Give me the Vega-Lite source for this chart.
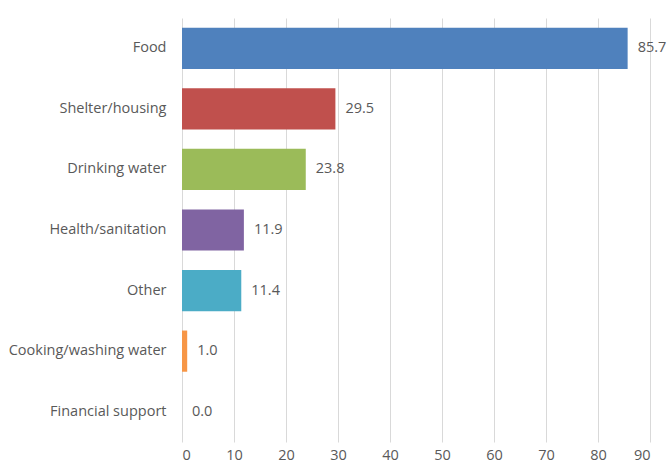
{
  "$schema": "https://vega.github.io/schema/vega-lite/v6.json",
  "width": 468,
  "height": 424,
  "autosize": {"type": "none"},
  "padding": {"left": 182, "top": 18, "right": 18, "bottom": 28},
  "background": "white",
  "config": {"view": {"stroke": null}, "font": "Open Sans"},
  "data": {"values": [
    {"category": "Food", "value": 85.7, "color": "#4F81BD"},
    {"category": "Shelter/housing", "value": 29.5, "color": "#C0504D"},
    {"category": "Drinking water", "value": 23.8, "color": "#9BBB59"},
    {"category": "Health/sanitation", "value": 11.9, "color": "#8064A2"},
    {"category": "Other", "value": 11.4, "color": "#4BACC6"},
    {"category": "Cooking/washing water", "value": 1.0, "color": "#F79646"},
    {"category": "Financial support", "value": 0.0, "color": "#7F7F7F"}
  ]},
  "encoding": {
    "y": {"field": "category", "type": "nominal", "sort": null,
      "scale": {"paddingInner": 0.32, "paddingOuter": 0.16},
      "axis": {"title": null, "domain": false, "ticks": false, "labelPadding": 16,
        "labelFontSize": 14.5, "labelColor": "#595959", "labelFont": "Open Sans"}},
    "x": {"field": "value", "type": "quantitative",
      "scale": {"domain": [0, 90], "nice": false},
      "axis": {"title": null, "domain": false, "ticks": false, "values": [0,10,20,30,40,50,60,70,80,90],
        "labelPadding": 6, "labelFontSize": 14.5, "labelColor": "#595959", "gridColor": "#D9D9D9", "gridWidth": 1}}
  },
  "layer": [
    {"mark": {"type": "bar"},
      "encoding": {"color": {"field": "color", "type": "nominal", "scale": null}}},
    {"mark": {"type": "text", "align": "left", "baseline": "middle", "dx": 10, "fontSize": 14.5, "color": "#595959"},
      "encoding": {"text": {"field": "value", "type": "quantitative", "format": ".1f"}}}
  ]
}
